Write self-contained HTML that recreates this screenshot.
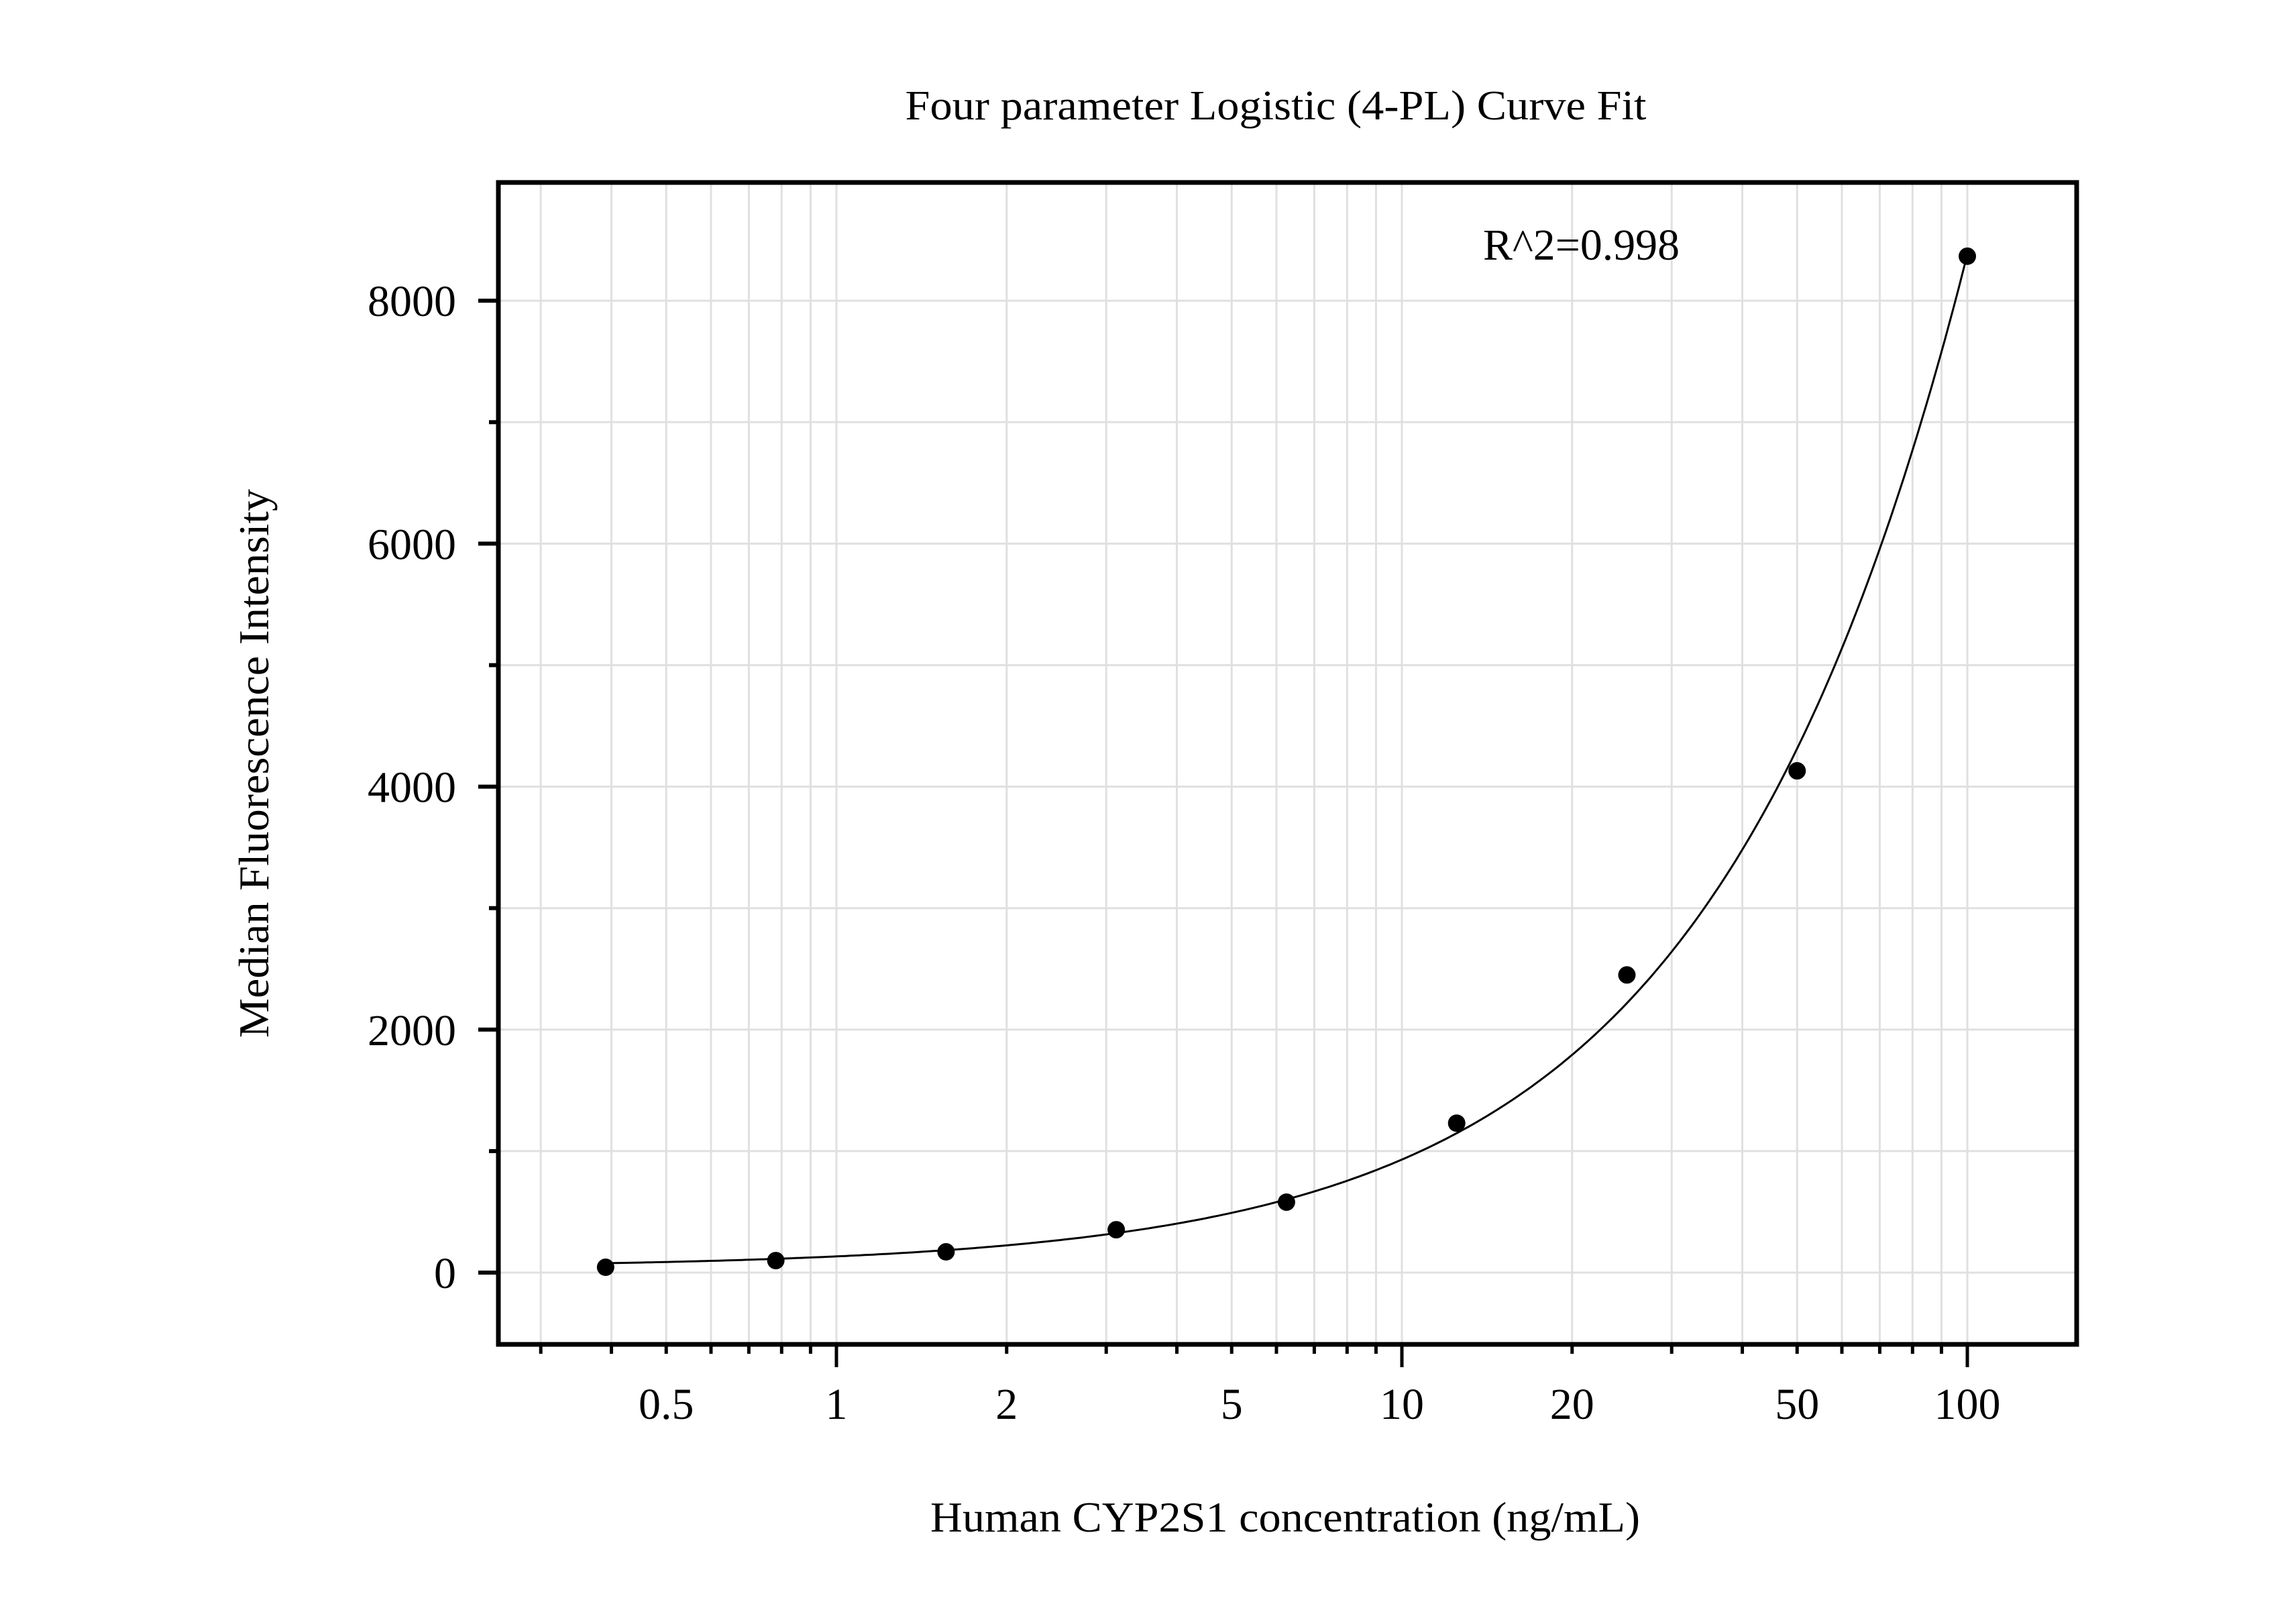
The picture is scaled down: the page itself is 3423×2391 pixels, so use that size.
<!DOCTYPE html>
<html><head><meta charset="utf-8"><style>
html,body{margin:0;padding:0;background:#fff;}
svg{display:block;font-family:"Liberation Serif","Times New Roman",serif;}
</style></head><body>
<svg id="chart" width="3423" height="2391" viewBox="0 0 3423 2391" xmlns="http://www.w3.org/2000/svg">
<rect x="0" y="0" width="3423" height="2391" fill="#fff"/>
<g id="grid"></g>
<g id="curve-layer"></g>
<g id="points"></g>
<rect x="743" y="272" width="2353" height="1732" fill="none" stroke="#000" stroke-width="7"/>
<g id="xticks"></g>
<g id="yticks"></g>
<text x="1902" y="178" font-size="62" text-anchor="middle" textLength="1105" lengthAdjust="spacingAndGlyphs">Four parameter Logistic (4-PL) Curve Fit</text>
<text x="2211" y="387" font-size="66" textLength="293" lengthAdjust="spacingAndGlyphs">R^2=0.998</text>
<text x="1387" y="2283" font-size="64" textLength="1058" lengthAdjust="spacingAndGlyphs">Human CYP2S1 concentration (ng/mL)</text>
<text transform="translate(400,1138) rotate(-90)" font-size="64" text-anchor="middle" textLength="818" lengthAdjust="spacingAndGlyphs">Median Fluorescence Intensity</text>
</svg>
<script>
const concentrations = [0.390625, 0.78125, 1.5625, 3.125, 6.25, 12.5, 25, 50, 100];
const mfiValues = [44, 99, 171, 353, 580, 1230, 2450, 4130, 8366];
const fitParams = [40, 0.98, 5000, 394020]; // A, B, C, D
const xTickValues = [0.5, 1, 2, 5, 10, 20, 50, 100];
const xTickLabels = ["0.5", "1", "2", "5", "10", "20", "50", "100"];
const yTickValues = [0, 2000, 4000, 6000, 8000];
const yTickLabels = ["0", "2000", "4000", "6000", "8000"];

const NS = "http://www.w3.org/2000/svg";
const PL = 743, PR = 3096, PT = 272, PB = 2004;
function xs(v){ return 1247 + Math.log10(v) * 843; }
function ys(v){ return 1897 - v * 0.1811; }
function mk(tag, attrs, parent){
  const e = document.createElementNS(NS, tag);
  for (const k in attrs) e.setAttribute(k, attrs[k]);
  parent.appendChild(e); return e;
}
const grid = document.getElementById('grid');
const xt = document.getElementById('xticks');
const yt = document.getElementById('yticks');
const minorX = [];
for (const dec of [0.1, 1, 10, 100]) for (let m = 1; m <= 9; m++) { const v = dec*m; if (xs(v) > PL+4 && xs(v) < PR-4) minorX.push(v); }
minorX.forEach(v => {
  const g = mk('line', {x1: xs(v), x2: xs(v), y1: PT, y2: PB, stroke: '#e0e0e0', 'stroke-width': 3}, grid);
  
  
  const isDecade = Math.abs(Math.log10(v) - Math.round(Math.log10(v))) < 1e-9;
  const t = mk('line', {x1: xs(v), x2: xs(v), y1: PB, y2: PB + (isDecade ? 34 : 14), stroke: '#000', 'stroke-width': 5}, xt);
  
  
});
xTickValues.forEach((v, i) => {
  const t = mk('text', {x: xs(v), y: 2115, 'font-size': 66, 'text-anchor': 'middle'}, xt);
  t.textContent = xTickLabels[i];
  
  
});
for (let v = 0; v <= 9000; v += 1000) {
  if (ys(v) < PT + 4) continue;
  const g = mk('line', {x1: PL, x2: PR, y1: ys(v), y2: ys(v), stroke: '#e0e0e0', 'stroke-width': 3}, grid);
  
  
  const major = v % 2000 === 0;
  const t = mk('line', {x1: PL - (major ? 30 : 14), x2: PL, y1: ys(v), y2: ys(v), stroke: '#000', 'stroke-width': 6}, yt);
  
  
}
yTickValues.forEach((v, i) => {
  const t = mk('text', {x: 680, y: ys(v) + 23, 'font-size': 66, 'text-anchor': 'end'}, yt);
  t.textContent = yTickLabels[i];
  
  
});
function fit(x){ const [A,B,C,D] = fitParams; return D + (A - D) / (1 + Math.pow(x / C, B)); }
let d = '';
const lo = Math.log10(concentrations[0]), hi = Math.log10(concentrations[concentrations.length-1]);
for (let i = 0; i <= 300; i++) {
  const x = Math.pow(10, lo + (hi - lo) * i / 300);
  d += (i ? 'L' : 'M') + xs(x).toFixed(1) + ',' + ys(fit(x)).toFixed(1);
}
const c = mk('path', {d: d, fill: 'none', stroke: '#000', 'stroke-width': 3}, document.getElementById('curve-layer'));


const pts = document.getElementById('points');
concentrations.forEach((x, i) => {
  const p = mk('circle', {cx: xs(x), cy: ys(mfiValues[i]), r: 13, fill: '#000'}, pts);
  
  
});
</script>
</body></html>
